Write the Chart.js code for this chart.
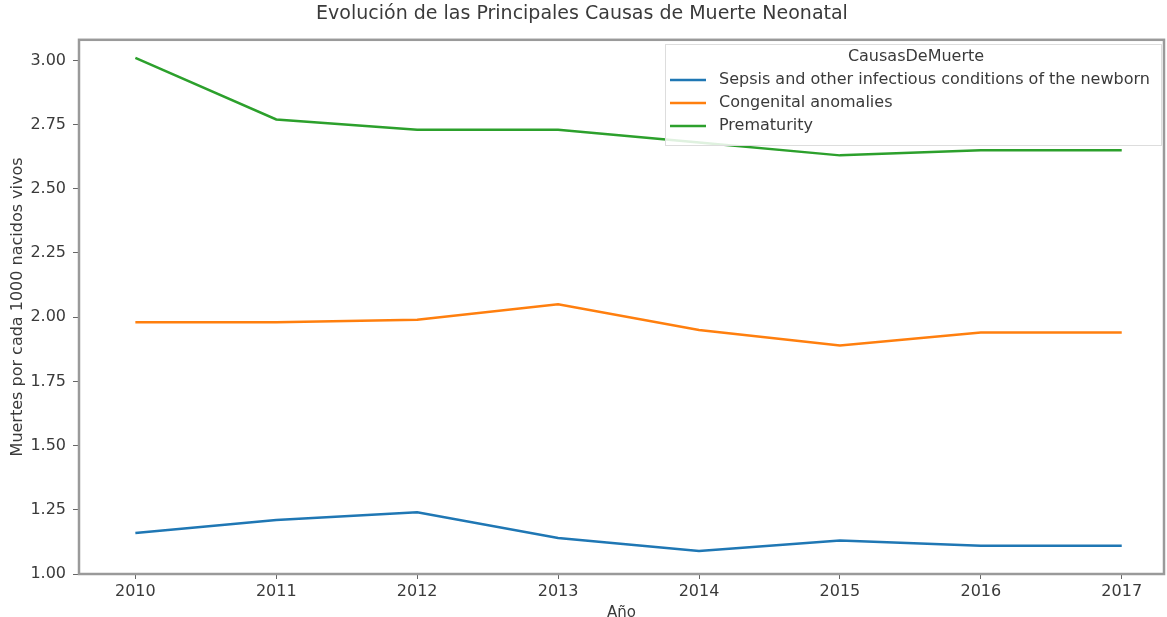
<!DOCTYPE html>
<html>
<head>
<meta charset="utf-8">
<script src="https://cdn.jsdelivr.net/npm/chart.js@4.4.0/dist/chart.umd.min.js"></script>
<style>
  html, body { margin: 0; padding: 0; background: #fff; }
  #wrap { width: 1167px; height: 617px; position: relative; }
</style>
</head>
<body>
<div id="wrap"><canvas id="neonatal"></canvas></div>
<script>
// datos
var years = [2010, 2011, 2012, 2013, 2014, 2015, 2016, 2017];
var sepsis = [1.16, 1.21, 1.24, 1.14, 1.09, 1.13, 1.11, 1.11];
var congenital = [1.98, 1.98, 1.99, 2.05, 1.95, 1.89, 1.94, 1.94];
var prematurity = [3.01, 2.77, 2.73, 2.73, 2.68, 2.63, 2.65, 2.65];
var yTicks = [1.00, 1.25, 1.50, 1.75, 2.00, 2.25, 2.50, 2.75, 3.00];
var seriesNames = ['Sepsis and other infectious conditions of the newborn', 'Congenital anomalies', 'Prematurity'];

function toPoints(vals) {
    return years.map(function(y, i) { return {x: y, y: vals[i]}; });
}

var FONT = 'DejaVu Sans';
var TXT = '#3a3a3a';

// marco del area + leyenda estilo matplotlib
var frameLegend = {
    id: 'frameLegend',
    afterDraw: function(chart) {
        var ctx = chart.ctx, a = chart.chartArea;
        ctx.save();
        ctx.strokeStyle = '#9a9a9a';
        ctx.lineWidth = 2.5;
        ctx.strokeRect(a.left, a.top, a.right - a.left, a.bottom - a.top);

        // leyenda
        var x0 = 665, y0 = 44, w = a.right - x0 - 3, h = 101;
        ctx.fillStyle = 'rgba(255,255,255,0.85)';
        ctx.strokeStyle = '#dddddd';
        ctx.lineWidth = 1;
        ctx.fillRect(x0, y0, w, h);
        ctx.strokeRect(x0 + 0.5, y0 + 0.5, w, h);
        ctx.fillStyle = TXT;
        ctx.font = '16px ' + FONT;
        ctx.textAlign = 'center';
        ctx.textBaseline = 'middle';
        ctx.fillText('CausasDeMuerte', 916, 57);
        ctx.textAlign = 'left';
        chart.data.datasets.forEach(function(ds, i) {
            var yy = 80 + i * 23;
            ctx.strokeStyle = ds.borderColor;
            ctx.lineWidth = 2.5;
            ctx.beginPath();
            ctx.moveTo(670, yy);
            ctx.lineTo(706, yy);
            ctx.stroke();
            ctx.fillStyle = TXT;
            ctx.fillText(ds.label, 719, yy);
        });
        ctx.restore();
    }
};

var ctx = document.getElementById('neonatal').getContext('2d');
var neonatalChart = new Chart(ctx, {
    type: 'line',
    data: {
        datasets: [{
            label: seriesNames[0],
            data: toPoints(sepsis),
            borderColor: '#1f77b4'
        }, {
            label: seriesNames[1],
            data: toPoints(congenital),
            borderColor: '#ff7f0e'
        }, {
            label: seriesNames[2],
            data: toPoints(prematurity),
            borderColor: '#2ca02c'
        }]
    },
    options: {
        responsive: true,
        maintainAspectRatio: false,
        animation: false,
        layout: {padding: {top: 3, right: 3, left: 0, bottom: 0}},
        elements: {
            line: {borderWidth: 2.5, tension: 0, fill: false},
            point: {radius: 0}
        },
        plugins: {
            legend: {display: false},
            tooltip: {enabled: false},
            title: {
                display: true,
                text: 'Evolución de las Principales Causas de Muerte Neonatal',
                color: TXT,
                font: {family: FONT, size: 19, weight: 'normal'},
                padding: {top: 0, bottom: 14}
            }
        },
        scales: {
            x: {
                type: 'linear',
                min: 2009.6,
                max: 2017.3,
                afterBuildTicks: function(axis) {
                    axis.ticks = years.map(function(v) { return {value: v}; });
                },
                afterFit: function(axis) { axis.height = 43; },
                ticks: {
                    color: TXT,
                    font: {family: FONT, size: 16},
                    padding: 3,
                    maxRotation: 0,
                    callback: function(v) { return String(v); }
                },
                grid: {drawOnChartArea: false, drawTicks: true, tickLength: 5, color: '#666'},
                border: {display: false},
                title: {
                    display: true,
                    text: 'Año',
                    color: TXT,
                    font: {family: FONT, size: 15},
                    padding: {top: 0, bottom: -5}
                }
            },
            y: {
                min: 1.0,
                max: 3.08,
                afterBuildTicks: function(axis) {
                    axis.ticks = yTicks.map(function(v) { return {value: v}; });
                },
                afterFit: function(axis) { axis.width = 79; },
                ticks: {
                    color: TXT,
                    font: {family: FONT, size: 16},
                    padding: 7,
                    callback: function(v) { return v.toFixed(2); }
                },
                grid: {drawOnChartArea: false, drawTicks: true, tickLength: 6, color: '#666'},
                border: {display: false},
                title: {
                    display: true,
                    text: 'Muertes por cada 1000 nacidos vivos',
                    color: TXT,
                    font: {family: FONT, size: 16},
                    padding: {top: 8, bottom: 0}
                }
            }
        }
    },
    plugins: [frameLegend]
});
</script>
</body>
</html>
